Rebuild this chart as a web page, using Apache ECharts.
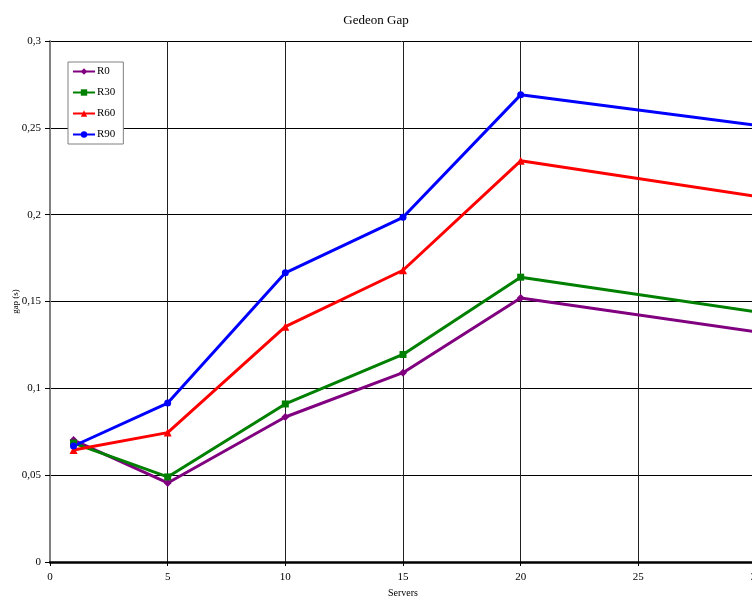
<!DOCTYPE html>
<html>
<head>
<meta charset="utf-8">
<script src="https://cdn.jsdelivr.net/npm/echarts@6/dist/echarts.min.js"></script>
<style>
  html, body { margin: 0; padding: 0; background: #fff; }
  #chart { width: 752px; height: 596px; }
</style>
</head>
<body>
<div id="chart"></div>
<script>
// servers on the x axis
const servers = [1, 5, 10, 15, 20, 30];
// gap (s) per series
const r0 = [0.0702, 0.0455, 0.0835, 0.1090, 0.1520, 0.1325];
const r30 = [0.0685, 0.0490, 0.0910, 0.1195, 0.1640, 0.1440];
const r60 = [0.0645, 0.0745, 0.1355, 0.1680, 0.2310, 0.2105];
const r90 = [0.0668, 0.0915, 0.1665, 0.1985, 0.2690, 0.2515];

const seriesDefs = [
  { name: 'R0', data: r0, color: '#800080', symbol: 'diamond', size: 8 },
  { name: 'R30', data: r30, color: '#008000', symbol: 'rect', size: 7 },
  { name: 'R60', data: r60, color: '#ff0000', symbol: 'triangle', size: 8 },
  { name: 'R90', data: r90, color: '#0000ff', symbol: 'circle', size: 7 }
];

const font = 'Liberation Serif';
const chart = echarts.init(document.getElementById('chart'));

chart.setOption({
  animation: false,
  textStyle: { fontFamily: font },
  title: {
    text: 'Gedeon Gap',
    left: 'center',
    top: 9,
    textStyle: { fontFamily: font, fontSize: 13, fontWeight: 'normal', color: '#000' }
  },
  legend: {
    orient: 'vertical',
    left: 68,
    top: 62,
    padding: [4, 8, 4, 4],
    itemGap: 10,
    itemWidth: 22,
    itemHeight: 8,
    borderColor: '#808080',
    borderWidth: 1,
    backgroundColor: '#fff',
    textStyle: { fontFamily: font, fontSize: 11, color: '#000', padding: [0, 0, 0, -3] },
    data: seriesDefs.map(s => s.name)
  },
  grid: { left: 50, right: -4, top: 41, bottom: 34, containLabel: false, outerBoundsMode: 'none' },
  xAxis: {
    type: 'value',
    min: 0,
    max: 30,
    interval: 5,
    name: 'Servers',
    nameLocation: 'middle',
    nameGap: 25,
    nameTextStyle: { fontFamily: font, fontSize: 10, color: '#000' },
    axisLine: { lineStyle: { color: '#000', width: 2.5 } },
    axisTick: { show: true, length: 4, lineStyle: { color: '#000' } },
    axisLabel: { fontFamily: font, fontSize: 11, color: '#000', margin: 10 },
    splitLine: { show: true, lineStyle: { color: '#202020', width: 1 } }
  },
  yAxis: {
    type: 'value',
    min: 0,
    max: 0.3,
    interval: 0.05,
    name: 'gap (s)',
    nameLocation: 'middle',
    nameGap: 30,
    nameMoveOverlap: false,
    nameTextStyle: { fontFamily: font, fontSize: 9, color: '#000' },
    axisLine: { show: true, lineStyle: { color: '#808080', width: 2 } },
    axisTick: { show: true, length: 5, lineStyle: { color: '#000' } },
    axisLabel: {
      fontFamily: font, fontSize: 11, color: '#000', margin: 9,
      formatter: v => String(+v.toFixed(2)).replace('.', ',')
    },
    splitLine: { show: true, lineStyle: { color: '#000', width: 1 } }
  },
  series: seriesDefs.map(s => ({
    name: s.name,
    type: 'line',
    data: servers.map((x, i) => [x, s.data[i]]),
    symbol: s.symbol,
    symbolSize: s.size,
    showAllSymbol: true,
    itemStyle: { color: s.color },
    lineStyle: { color: s.color, width: 3 },
    emphasis: { disabled: true }
  }))
});
</script>
</body>
</html>
